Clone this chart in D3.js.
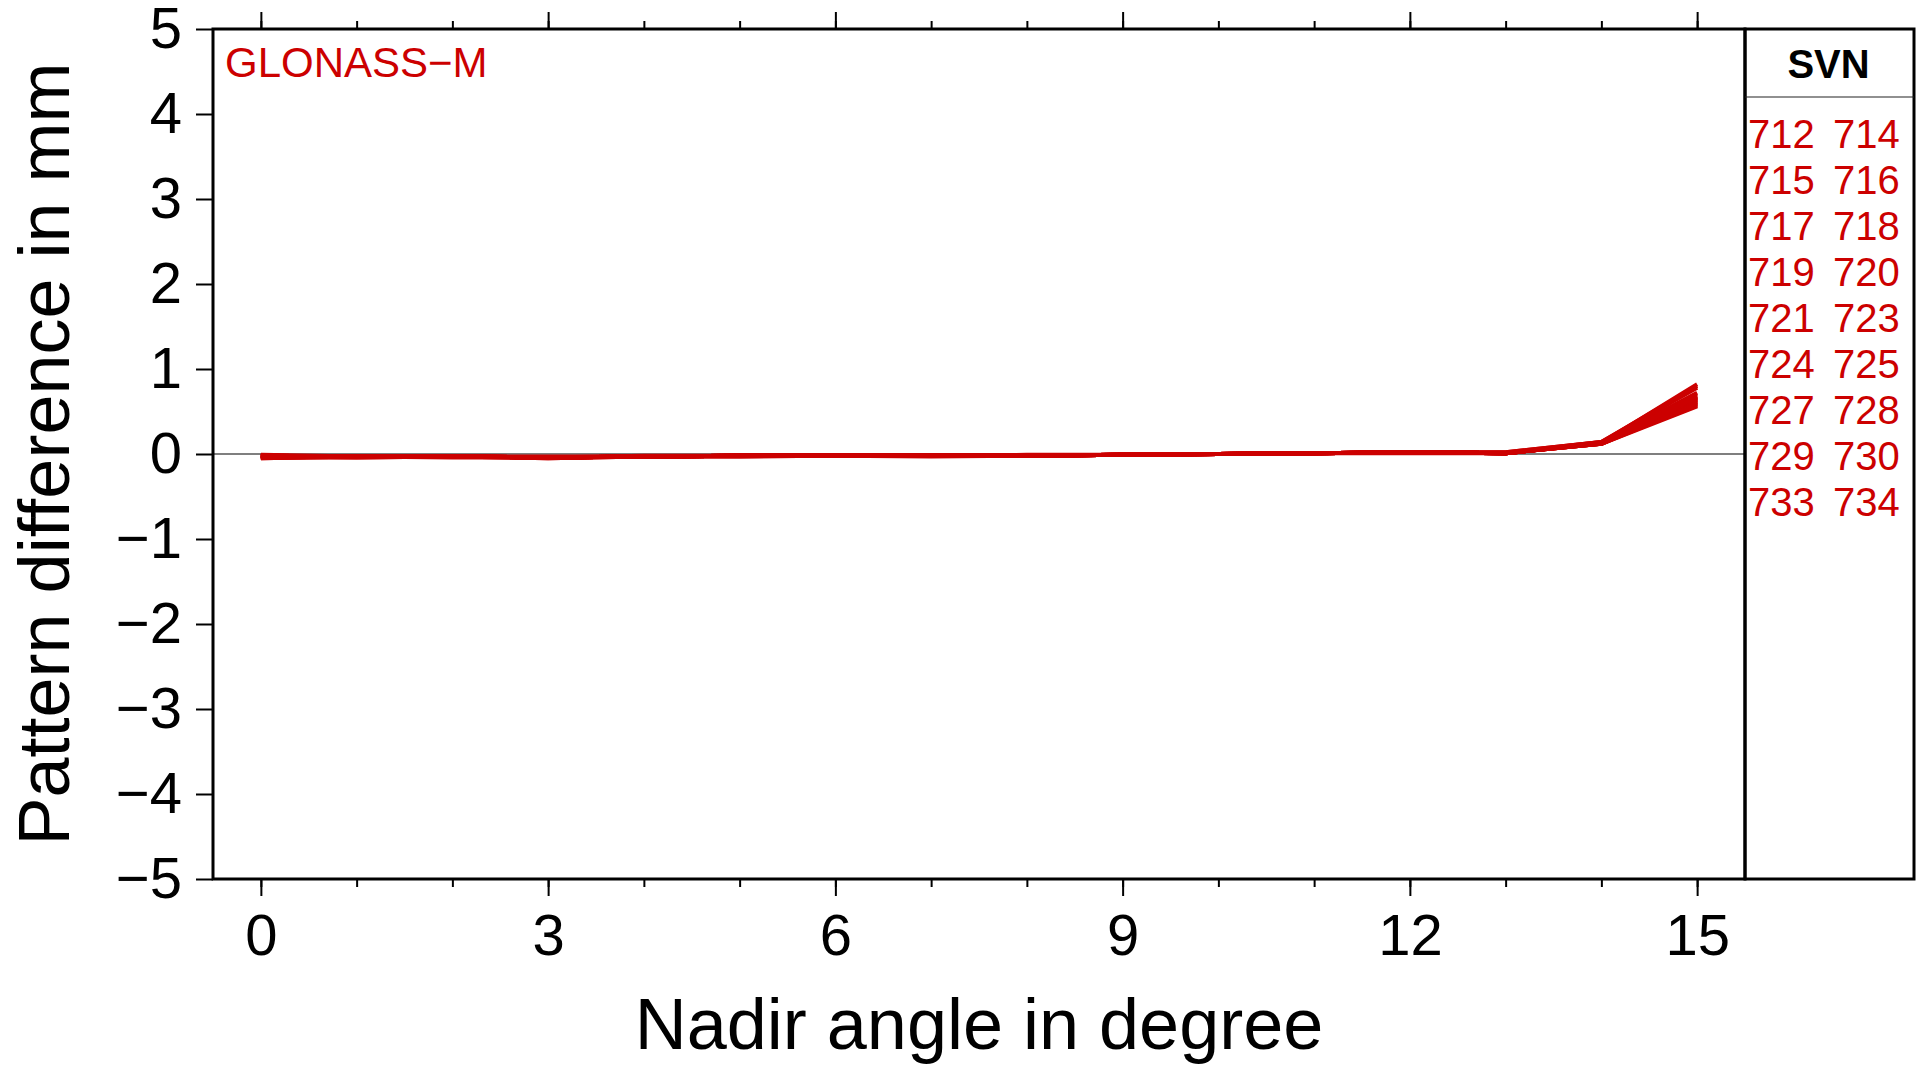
<!DOCTYPE html>
<html>
<head>
<meta charset="utf-8">
<script src="https://cdn.jsdelivr.net/npm/d3@7"></script>
<style>
  html, body { margin: 0; padding: 0; background: #fff; }
  svg { display: block; }
  text { font-family: "Liberation Sans", Arial, Helvetica, sans-serif; }
</style>
</head>
<body>
<script>
// ---- data ----
const nadirAngles = [0,1,2,3,4,5,6,7,8,9,10,11,12,13,14,15];
const xMajorTicks = [0,3,6,9,12,15];
const yTicks = [-5,-4,-3,-2,-1,0,1,2,3,4,5];
const svnList = [712,714,715,716,717,718,719,720,721,723,724,725,727,728,729,730,733,734];
const blockLabel = "GLONASS\u2212M";
const legendTitle = "SVN";
const xTitle = "Nadir angle in degree";
const yTitle = "Pattern difference in mm";

// pattern differences (mm), one row per SVN in svnList order, at nadirAngles
const patternDiff = [
  [-0.02,-0.03,-0.03,-0.04,-0.03,-0.02,-0.02,-0.02,-0.02,-0.01,0.00,0.01,0.02,0.01,0.13,0.82],
  [-0.03,-0.03,-0.03,-0.04,-0.03,-0.02,-0.02,-0.02,-0.02,-0.01,0.00,0.01,0.02,0.01,0.14,0.80],
  [-0.02,-0.03,-0.04,-0.04,-0.03,-0.03,-0.02,-0.02,-0.02,-0.01,0.00,0.01,0.02,0.02,0.14,0.78],
  [-0.04,-0.03,-0.03,-0.04,-0.03,-0.02,-0.02,-0.02,-0.02,-0.01,0.00,0.01,0.02,0.01,0.13,0.72],
  [-0.03,-0.04,-0.03,-0.05,-0.03,-0.02,-0.02,-0.03,-0.02,-0.01,0.00,0.01,0.01,0.01,0.13,0.70],
  [-0.05,-0.03,-0.03,-0.04,-0.03,-0.02,-0.02,-0.02,-0.02,-0.01,0.00,0.01,0.02,0.01,0.12,0.68],
  [-0.02,-0.03,-0.03,-0.03,-0.03,-0.02,-0.02,-0.02,-0.01,-0.01,0.00,0.01,0.02,0.01,0.13,0.66],
  [-0.03,-0.03,-0.03,-0.04,-0.03,-0.02,-0.02,-0.02,-0.02,-0.01,0.00,0.01,0.02,0.01,0.12,0.65],
  [-0.01,-0.03,-0.03,-0.04,-0.02,-0.02,-0.02,-0.02,-0.02,-0.01,0.00,0.01,0.02,0.01,0.13,0.64],
  [-0.04,-0.03,-0.03,-0.04,-0.03,-0.03,-0.02,-0.02,-0.02,-0.01,0.00,0.01,0.02,0.02,0.14,0.63],
  [-0.02,-0.03,-0.03,-0.04,-0.03,-0.02,-0.02,-0.02,-0.02,-0.01,0.00,0.01,0.02,0.01,0.12,0.62],
  [-0.03,-0.03,-0.03,-0.05,-0.03,-0.02,-0.02,-0.02,-0.02,-0.01,0.00,0.01,0.02,0.01,0.13,0.61],
  [-0.04,-0.04,-0.03,-0.04,-0.03,-0.02,-0.02,-0.02,-0.02,-0.01,0.00,0.01,0.02,0.01,0.12,0.60],
  [-0.02,-0.03,-0.03,-0.04,-0.03,-0.02,-0.02,-0.02,-0.02,-0.01,0.00,0.01,0.02,0.01,0.13,0.59],
  [-0.03,-0.03,-0.03,-0.04,-0.03,-0.02,-0.02,-0.02,-0.02,-0.01,0.00,0.01,0.02,0.01,0.12,0.58],
  [-0.05,-0.03,-0.03,-0.04,-0.03,-0.02,-0.02,-0.02,-0.02,-0.01,0.00,0.01,0.02,0.01,0.13,0.57],
  [-0.03,-0.03,-0.03,-0.04,-0.03,-0.02,-0.02,-0.02,-0.02,-0.01,0.00,0.01,0.02,0.01,0.12,0.56],
  [-0.02,-0.03,-0.03,-0.04,-0.03,-0.02,-0.02,-0.02,-0.02,-0.01,0.00,0.01,0.02,0.01,0.13,0.67]
];

// ---- layout ----
const W = 1917, H = 1065;
const plot = { left: 213, right: 1745, top: 29, bottom: 879 };
const legend = { left: 1745, right: 1914 };
const red = "#cc0000";

const svg = d3.select("body").append("svg").attr("width", W).attr("height", H);

const x = d3.scaleLinear().domain([-0.5, 15.5]).range([plot.left, plot.right]);
const y = d3.scaleLinear().domain([-5, 5]).range([plot.bottom, plot.top]);

// zero line
svg.append("line")
  .attr("x1", x(-0.5)).attr("x2", x(15.5))
  .attr("y1", y(0)).attr("y2", y(0))
  .attr("stroke", "#555").attr("stroke-width", 1.3);

// data lines
const line = d3.line()
  .x((d, i) => x(nadirAngles[i]))
  .y(d => y(d))
  .curve(d3.curveLinear);

svg.append("clipPath").attr("id", "clip")
  .append("rect").attr("x", plot.left).attr("y", plot.top)
  .attr("width", plot.right - plot.left).attr("height", plot.bottom - plot.top);

svg.append("g").attr("clip-path", "url(#clip)")
  .selectAll("path").data(patternDiff).join("path")
  .attr("d", line)
  .attr("fill", "none")
  .attr("stroke", red)
  .attr("stroke-width", 4)
  .attr("stroke-linejoin", "round")
  .attr("stroke-linecap", "butt");

// axes styling helper
function styleAxis(g, fontSize) {
  g.select(".domain").remove();
  g.selectAll(".tick line").attr("stroke", "#000").attr("stroke-width", 2);
  g.selectAll(".tick text").attr("fill", "#000")
    .style("font-size", fontSize + "px")
    .style("font-family", "'Liberation Sans', Arial, sans-serif");
}

// bottom minor ticks
svg.append("g").attr("transform", `translate(0,${plot.bottom})`)
  .call(d3.axisBottom(x).tickValues(nadirAngles).tickSize(8).tickFormat(""))
  .call(g => styleAxis(g, 10));
// bottom major ticks + labels
svg.append("g").attr("transform", `translate(0,${plot.bottom})`)
  .call(d3.axisBottom(x).tickValues(xMajorTicks).tickSize(17).tickPadding(18).tickFormat(d3.format("d")))
  .call(g => styleAxis(g, 58));
// top minor/major ticks
svg.append("g").attr("transform", `translate(0,${plot.top})`)
  .call(d3.axisTop(x).tickValues(nadirAngles).tickSize(8).tickFormat(""))
  .call(g => styleAxis(g, 10));
svg.append("g").attr("transform", `translate(0,${plot.top})`)
  .call(d3.axisTop(x).tickValues(xMajorTicks).tickSize(17).tickFormat(""))
  .call(g => styleAxis(g, 10));
// left axis
svg.append("g").attr("transform", `translate(${plot.left},0)`)
  .call(d3.axisLeft(y).tickValues(yTicks).tickSize(17).tickPadding(14).tickFormat(d3.format("d")))
  .call(g => styleAxis(g, 58));

// frames
svg.append("rect")
  .attr("x", plot.left).attr("y", plot.top)
  .attr("width", plot.right - plot.left).attr("height", plot.bottom - plot.top)
  .attr("fill", "none").attr("stroke", "#000").attr("stroke-width", 3);
svg.append("rect")
  .attr("x", legend.left).attr("y", plot.top)
  .attr("width", legend.right - legend.left).attr("height", plot.bottom - plot.top)
  .attr("fill", "none").attr("stroke", "#000").attr("stroke-width", 3);

// block label
svg.append("text")
  .attr("x", 225).attr("y", 77)
  .attr("fill", red)
  .style("font-size", "42px")
  .text(blockLabel);

// legend
const legCx = (legend.left + legend.right) / 2;
svg.append("text")
  .attr("x", legCx - 1).attr("y", 78)
  .attr("text-anchor", "middle")
  .style("font-size", "40px").style("font-weight", "bold")
  .attr("fill", "#000")
  .text(legendTitle);
svg.append("line")
  .attr("x1", legend.left).attr("x2", legend.right)
  .attr("y1", 97).attr("y2", 97)
  .attr("stroke", "#222").attr("stroke-width", 1.2);

const rowY = d3.scaleLinear().domain([0, 1]).range([148, 194]);
const legG = svg.append("g");
svnList.forEach((s, i) => {
  const r = Math.floor(i / 2), c = i % 2;
  legG.append("text")
    .attr("x", c === 0 ? 1748 : 1833)
    .attr("y", rowY(r))
    .attr("fill", red)
    .style("font-size", "40px")
    .text(s);
});

// axis titles
svg.append("text")
  .attr("x", (plot.left + plot.right) / 2).attr("y", 1049)
  .attr("text-anchor", "middle")
  .style("font-size", "72px")
  .attr("fill", "#000")
  .text(xTitle);
svg.append("text")
  .attr("transform", `translate(69,${(plot.top + plot.bottom) / 2}) rotate(-90)`)
  .attr("text-anchor", "middle")
  .style("font-size", "72px")
  .attr("fill", "#000")
  .text(yTitle);
</script>
</body>
</html>
